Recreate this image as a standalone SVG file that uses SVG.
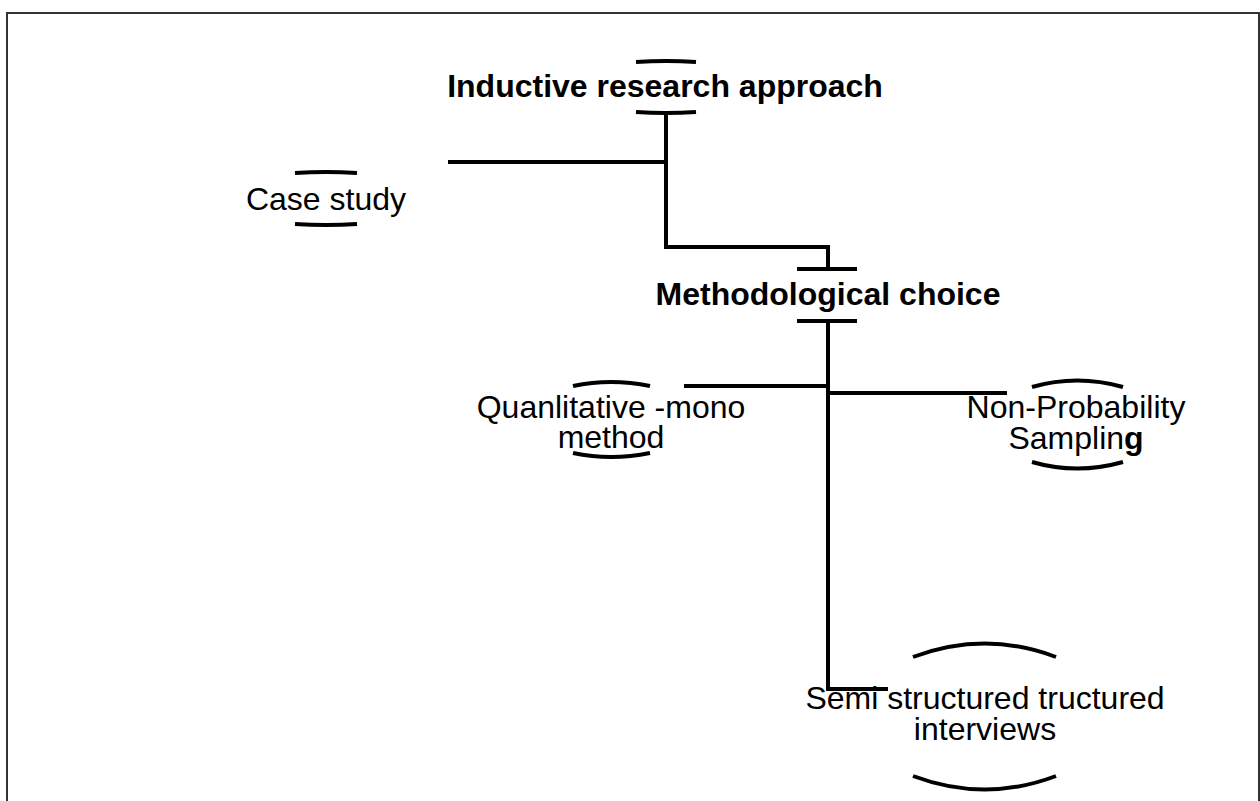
<svg xmlns="http://www.w3.org/2000/svg" width="1260" height="801" viewBox="0 0 1260 801">
  <style>
    .frame { fill: #ffffff; stroke: #333333; stroke-width: 2; }
    .wire { fill: none; stroke: #000000; stroke-width: 4; stroke-linejoin: miter; }
    .cap { fill: none; stroke: #000000; stroke-width: 4; stroke-linecap: butt; }
    .lbl { font-family: "Liberation Sans", Arial, sans-serif; font-size: 32px; fill: #000000; text-anchor: middle; }
    .bold { font-weight: bold; }
  </style>

  <!-- page frame -->
  <rect x="0" y="0" width="1260" height="801" fill="#ffffff"/>
  <path class="frame" d="M7,802 V13 H1259 V802"/>

  <!-- connectors -->
  <g id="connectors">
    <path class="wire" d="M666,113 V247 H828 V269"/>
    <path class="wire" d="M448,162 H666"/>
    <path class="wire" d="M828,321 V689 H888"/>
    <path class="wire" d="M684,386 H828"/>
    <path class="wire" d="M828,393 H1007"/>
  </g>

  <!-- Inductive research approach -->
  <g id="node-inductive">
    <path class="cap" d="M636,62 Q666,60 696,62"/>
    <path class="cap" d="M636,112 Q666,114 696,112"/>
    <text class="lbl bold" x="665" y="97">Inductive research approach</text>
  </g>

  <!-- Case study -->
  <g id="node-case-study">
    <path class="cap" d="M295,173 Q326,171 357,173"/>
    <path class="cap" d="M295,224 Q326,226 357,224"/>
    <text class="lbl" x="326" y="210">Case study</text>
  </g>

  <!-- Methodological choice -->
  <g id="node-methodological">
    <path class="cap" d="M797,269 H857"/>
    <path class="cap" d="M797,321 H857"/>
    <text class="lbl bold" x="828" y="305">Methodological choice</text>
  </g>

  <!-- Quanlitative -mono method -->
  <g id="node-mono-method">
    <path class="cap" d="M573,386 Q611,378 650,386"/>
    <path class="cap" d="M573,453 Q611,461 650,453"/>
    <text class="lbl" x="611" y="418">Quanlitative -mono</text>
    <text class="lbl" x="611" y="448">method</text>
  </g>

  <!-- Non-Probability Sampling -->
  <g id="node-sampling">
    <path class="cap" d="M1032,387 Q1077,374 1123,387"/>
    <path class="cap" d="M1032,462 Q1077,475 1123,462"/>
    <text class="lbl" x="1076" y="418">Non-Probability</text>
    <text class="lbl" x="1076" y="449">Samplin<tspan class="bold">g</tspan></text>
  </g>

  <!-- Semi structured interviews -->
  <g id="node-interviews">
    <path class="cap" d="M913,657 Q985,630 1056,657"/>
    <path class="cap" d="M913,776 Q985,803 1056,776"/>
    <text class="lbl" x="985" y="709">Semi structured tructured</text>
    <text class="lbl" x="985" y="740">interviews</text>
  </g>
</svg>
